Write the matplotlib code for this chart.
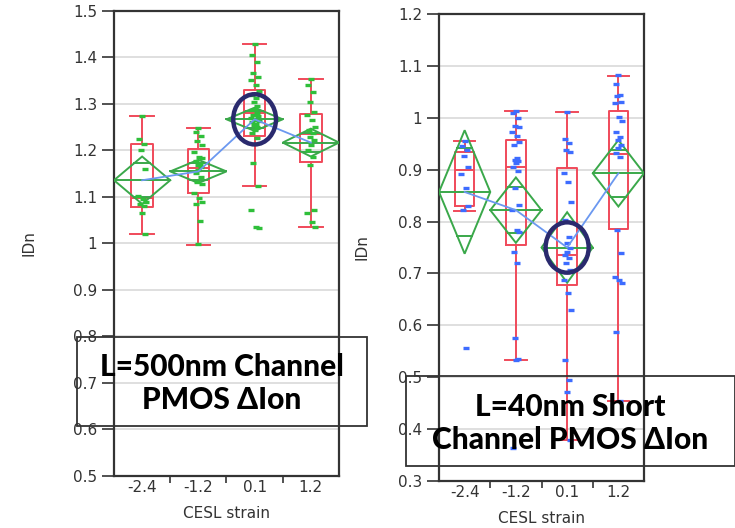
from matplotlib import pyplot as plt
from matplotlib.patches import Polygon, Ellipse, Rectangle
from matplotlib.ticker import FuncFormatter
import numpy as np

# categorias (CESL strain)
strain = ['-2.4', '-1.2', '0.1', '1.2']

# painel esquerdo: L=500nm
pts_500 = [
    [1.275, 1.224, 1.215, 1.202, 1.160, 1.103, 1.096, 1.090, 1.085, 1.080, 1.066, 1.020],
    [1.249, 1.240, 1.231, 1.221, 1.212, 1.197, 1.187, 1.183, 1.178, 1.172, 1.168, 1.165,
     1.158, 1.151, 1.144, 1.133, 1.128, 1.108, 1.097, 1.090, 1.085, 1.048, 0.998],
    [1.429, 1.405, 1.391, 1.366, 1.359, 1.352, 1.341, 1.327, 1.319, 1.312, 1.305, 1.296,
     1.290, 1.287, 1.280, 1.277, 1.274, 1.269, 1.266, 1.264, 1.261, 1.258, 1.255, 1.251,
     1.244, 1.237, 1.226, 1.174, 1.124, 1.072, 1.036, 1.033],
    [1.353, 1.341, 1.325, 1.305, 1.283, 1.276, 1.266, 1.251, 1.244, 1.237, 1.230, 1.223,
     1.212, 1.201, 1.187, 1.169, 1.072, 1.065, 1.047, 1.036],
]
whislo_500 = [1.020, 0.997, 1.123, 1.036]
q1_500 = [1.078, 1.108, 1.231, 1.176]
med_500 = [1.098, 1.163, 1.281, 1.236]
q3_500 = [1.214, 1.203, 1.330, 1.278]
whishi_500 = [1.275, 1.249, 1.429, 1.353]
mean_500 = [1.136, 1.155, 1.267, 1.217]
ci_500 = [0.051, 0.025, 0.025, 0.030]

# painel direito: L=40nm
pts_40 = [
    [0.956, 0.945, 0.937, 0.927, 0.906, 0.891, 0.864, 0.830, 0.822, 0.556],
    [1.013, 1.009, 0.999, 0.984, 0.982, 0.973, 0.964, 0.954, 0.948, 0.922, 0.919, 0.916,
     0.913, 0.906, 0.898, 0.864, 0.832, 0.822, 0.784, 0.779, 0.742, 0.721, 0.576, 0.536,
     0.534, 0.364],
    [1.012, 0.959, 0.951, 0.938, 0.935, 0.893, 0.877, 0.838, 0.803, 0.771, 0.758, 0.749,
     0.742, 0.736, 0.729, 0.720, 0.707, 0.687, 0.662, 0.630, 0.533, 0.495, 0.472, 0.379],
    [1.082, 1.065, 1.044, 1.041, 1.031, 1.028, 1.002, 0.993, 0.973, 0.963, 0.957, 0.948,
     0.942, 0.932, 0.925, 0.784, 0.739, 0.694, 0.687, 0.681, 0.588, 0.455],
]
whislo_40 = [0.820, 0.533, 0.379, 0.455]
q1_40 = [0.830, 0.755, 0.678, 0.785]
med_40 = [0.899, 0.906, 0.736, 0.930]
q3_40 = [0.935, 0.957, 0.903, 1.013]
whishi_40 = [0.955, 1.013, 1.011, 1.081]
mean_40 = [0.857, 0.822, 0.750, 0.893]
ci_40 = [0.119, 0.063, 0.068, 0.064]

RED = '#f04a5a'
GREEN = '#3aa84a'
BLUE_LINE = '#6b98f0'
NAVY = '#2a2a6e'
jit = [0.0, -0.05, 0.04, -0.02, 0.06, -0.07, 0.02, 0.07, -0.04, 0.03, -0.01, 0.05]

plt.rcParams['font.family'] = ['DejaVu Sans']

fig = plt.figure(figsize=(7.35, 5.28), dpi=100)
ax1 = fig.add_axes([0.1551, 0.0985, 0.3061, 0.8807])
ax2 = fig.add_axes([0.5973, 0.0890, 0.2789, 0.8845])


def painel(ax, pts, wlo, q1, med, q3, whi, mean, ci, cor_pts, ylim, ell):
    x = np.arange(len(strain))
    stats = []
    for i in range(len(strain)):
        stats.append({'whislo': wlo[i], 'q1': q1[i], 'med': med[i], 'q3': q3[i],
                      'whishi': whi[i], 'fliers': []})
    ax.bxp(stats, positions=x, widths=0.38, showfliers=False,
           boxprops=dict(color=RED, lw=1.4), whiskerprops=dict(color=RED, lw=1.4),
           capprops=dict(color=RED, lw=1.4), medianprops=dict(color=RED, lw=1.4),
           capwidths=0.42, zorder=2)
    hw = 0.5
    for i in range(len(strain)):
        m, c = mean[i], ci[i]
        ax.add_patch(Polygon([(x[i] - hw, m), (x[i], m + c), (x[i] + hw, m), (x[i], m - c)],
                             closed=True, fill=False, ec=GREEN, lw=1.4, zorder=3))
        ax.plot([x[i] - hw, x[i] + hw], [m, m], color=GREEN, lw=1.4, zorder=3)
        d = c / np.sqrt(2)
        w = hw * (1 - 1 / np.sqrt(2))
        for s in (1, -1):
            ax.plot([x[i] - w, x[i] + w], [m + s * d, m + s * d], color=GREEN, lw=1.4, zorder=3)
        xs = x[i] + np.resize(jit, len(pts[i]))
        ax.plot(xs, pts[i], ls='none', marker='_', ms=4.5, mew=2.4, color=cor_pts, zorder=4)
    ax.plot(x, mean, color=BLUE_LINE, lw=1.3, zorder=5)
    ax.add_patch(Ellipse((2, mean[2]), ell[0], ell[1], fill=False, ec=NAVY, lw=3.2, zorder=6))

    ax.set_xlim(-0.5, 3.5)
    ax.set_ylim(*ylim)
    ax.set_yticks(np.round(np.arange(ylim[0], ylim[1] + 0.01, 0.1), 1))
    ax.yaxis.set_major_formatter(FuncFormatter(lambda v, p: '%g' % v))
    ax.yaxis.grid(True, color='#dcdcdc', lw=1.3)
    ax.set_axisbelow(True)
    ax.set_xticks([0.5, 1.5, 2.5])
    ax.set_xticklabels([])
    ax.set_xticks(x, minor=True)
    ax.set_xticklabels(strain, minor=True)
    ax.tick_params(axis='x', which='major', length=5, width=1.2, color='#333333')
    ax.tick_params(axis='x', which='minor', length=0, pad=3, labelsize=11, labelcolor='#333333')
    ax.tick_params(axis='y', length=9, width=1.2, color='#333333', labelsize=11,
                   labelcolor='#333333', pad=3)
    for sp in ax.spines.values():
        sp.set_color('#333333')
        sp.set_linewidth(1.6)
    ax.set_xlabel('CESL strain', fontsize=11, color='#333333', labelpad=8)


painel(ax1, pts_500, whislo_500, q1_500, med_500, q3_500, whishi_500, mean_500, ci_500,
       '#2fbf3a', (0.5, 1.5), (0.76, 0.108))
painel(ax2, pts_40, whislo_40, q1_40, med_40, q3_40, whishi_40, mean_40, ci_40,
       '#3d6cff', (0.3, 1.2), (0.84, 0.097))

fig.text(29 / 735, 1 - 243 / 528, 'IDn', rotation=90, ha='center', va='center',
         fontsize=11, color='#333333')
fig.text(362 / 735, 1 - 247 / 528, 'IDn', rotation=90, ha='center', va='center',
         fontsize=11, color='#333333')

# caixas de texto
for (x0, y0, x1, y1), txt in [((77, 337, 367, 426), 'L=500nm Channel\nPMOS \u0394Ion'),
                              ((406, 376, 735, 466), 'L=40nm Short\nChannel PMOS \u0394Ion')]:
    fig.patches.append(Rectangle((x0 / 735, 1 - y1 / 528), (x1 - x0) / 735, (y1 - y0) / 528,
                                 transform=fig.transFigure, fill=False, ec='#333333', lw=1.3))
    fig.text((x0 + x1) / 2 / 735, 1 - (y0 + y1) / 2 / 528 - 0.004, txt, ha='center', va='center',
             fontsize=21.5, fontweight='black', family=['Lato', 'DejaVu Sans'], linespacing=1.22)

fig.savefig('out.png', dpi=100)
